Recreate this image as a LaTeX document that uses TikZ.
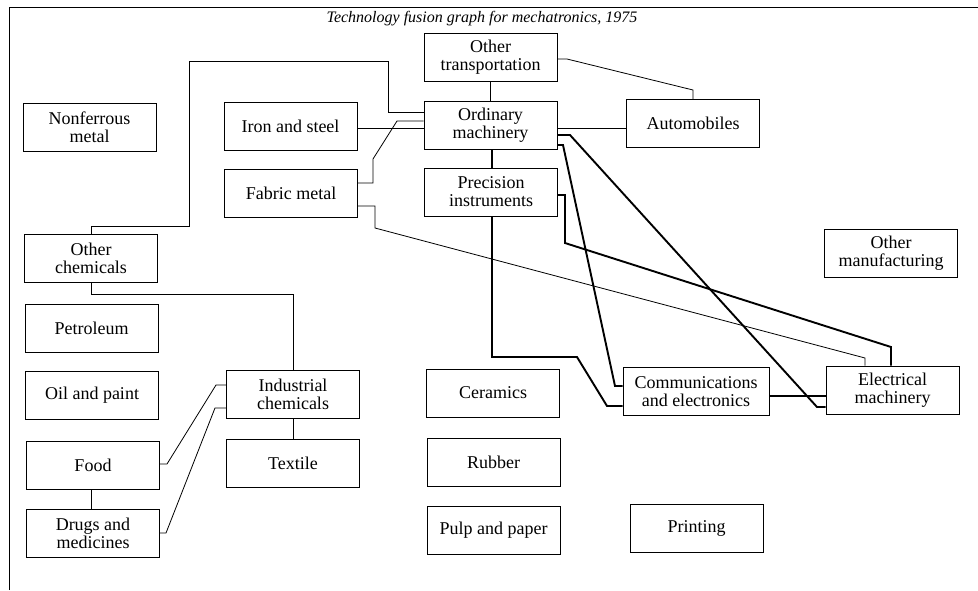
\documentclass[tikz,border=0pt]{standalone}
\usepackage{fontspec}
\setmainfont{Liberation Serif}
\begin{document}
\begin{tikzpicture}[x=1pt,y=-1pt,
  box/.style={draw,line width=0.9pt,rectangle,minimum width=133pt,minimum height=48pt,inner sep=0pt,align=center,font=\fontsize{18}{17.8}\selectfont},
  thinline/.style={line width=0.8pt},
  thickline/.style={line width=1.9pt}]
\useasboundingbox (0,0) rectangle (978,590);
\draw[line width=0.9pt] (9,590) -- (9,7.5) -- (978,7.5);
\node[font=\itshape\fontsize{16}{18}\selectfont] (title) at (482,19) {Technology fusion graph for mechatronics, 1975};

\node[box] (nonferrous) at (89.5,127.5) {Nonferrous\\metal};
\node[box] (iron) at (290.5,126.5) {Iron and steel};
\node[box] (fabric) at (291,193) {Fabric metal};
\node[box] (othertrans) at (490.5,57) {Other\\transportation};
\node[box] (ordinary) at (490.5,125) {Ordinary\\machinery};
\node[box] (precision) at (491,192) {Precision\\instruments};
\node[box] (auto) at (693,123.5) {Automobiles};
\node[box] (othermanu) at (891,253.5) {Other\\manufacturing};
\node[box] (otherchem) at (91,258.5) {Other\\chemicals};
\node[box] (petroleum) at (91.5,328) {Petroleum};
\node[box] (oil) at (92,395.5) {Oil and paint};
\node[box] (food) at (93,465) {Food};
\node[box] (drugs) at (93,533) {Drugs and\\medicines};
\node[box] (indchem) at (293,394.5) {Industrial\\chemicals};
\node[box] (textile) at (293,463.5) {Textile};
\node[box] (ceramics) at (493,393) {Ceramics};
\node[box] (rubber) at (493.5,462.5) {Rubber};
\node[box] (pulp) at (493.5,530) {Pulp and paper};
\node[box] (printing) at (696.5,528.5) {Printing};
\node[box,minimum width=146pt] (comm) at (696,391.5) {Communications\\and electronics};
\node[box] (elec) at (892.5,390) {Electrical\\machinery};

% thin connectors
\draw[thinline] (othertrans.south) -- (ordinary.north);
\draw[thinline] (othertrans.east |- 0,59) -- (567,59) -- (693,90) -- (auto.north);
\draw[thinline] (ordinary.east |- 0,128) -- (auto.west |- 0,128);
\draw[thinline] (iron.east |- 0,128) -- (ordinary.west |- 0,128);
\draw[thinline] (otherchem.north) -- (91,226) -- (189,226) -- (189,61) -- (388,61) -- (388,112) -- (ordinary.west |- 0,112);
\draw[thinline] (fabric.east |- 0,183) -- (373,183) -- (373,159) -- (397,121) -- (ordinary.west |- 0,121);
\draw[thinline] (fabric.east |- 0,206) -- (375,206) -- (375,228) -- (865,358) -- (elec.north -| 865,0);
\draw[thinline] (otherchem.south) -- (91,294) -- (293,294) -- (indchem.north);
\draw[thinline] (food.east |- 0,464) -- (167,464) -- (216,385) -- (indchem.west |- 0,385);
\draw[thinline] (drugs.east |- 0,533) -- (166,533) -- (215,408) -- (indchem.west |- 0,408);
\draw[thinline] (food.south -| 91,0) -- (drugs.north -| 91,0);
\draw[thinline] (indchem.south) -- (textile.north);

% thick connectors
\draw[thickline] (ordinary.south -| 492,0) -- (precision.north -| 492,0);
\draw[thickline] (precision.south -| 492,0) -- (492,357) -- (577,357) -- (607,406) -- (comm.west |- 0,406);
\draw[thickline] (precision.east |- 0,195) -- (565,195) -- (565,243) -- (891,347) -- (elec.north -| 891,0);
\draw[thickline] (ordinary.east |- 0,145) -- (563,145) -- (615,386) -- (comm.west |- 0,386);
\draw[thickline] (ordinary.east |- 0,135) -- (570,135) -- (817,407) -- (elec.west |- 0,407);
\draw[thickline] (comm.east |- 0,396) -- (elec.west |- 0,396);
\end{tikzpicture}
\end{document}
